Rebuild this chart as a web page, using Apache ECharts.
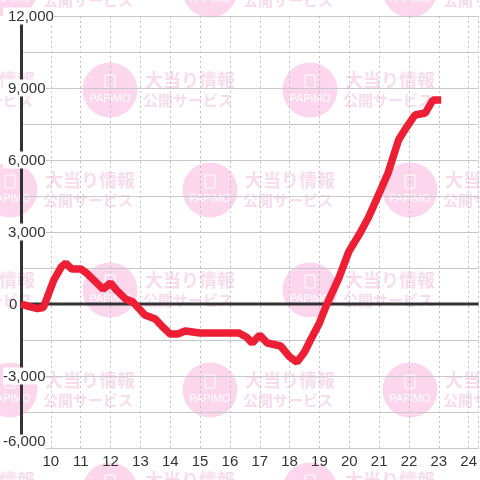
<!DOCTYPE html>
<html><head><meta charset="utf-8">
<style>html,body{margin:0;padding:0;background:#fff}#c{width:480px;height:480px}</style>
<script src="https://cdn.jsdelivr.net/npm/echarts@6/dist/echarts.min.js"></script>
</head><body><div id="c"></div>
<script>
const hours=[9,9.25,9.55,9.75,10.1,10.35,10.5,10.7,11,11.2,11.5,11.75,12,12.2,12.5,12.75,13.15,13.5,13.75,14,14.25,14.5,15,16.3,16.55,16.75,17,17.25,17.7,18,18.25,18.5,18.7,19,19.25,19.65,19.98,20.38,20.65,21.05,21.3,21.65,21.9,22.2,22.55,22.8,23.08];
const values=[0,-100,-190,-145,1000,1550,1700,1460,1460,1290,920,620,875,580,210,80,-460,-625,-960,-1250,-1250,-1125,-1210,-1210,-1375,-1625,-1290,-1625,-1750,-2200,-2420,-2000,-1500,-790,0,1080,2170,3000,3625,4750,5460,6830,7330,7875,7960,8500,8500];
const zeroLine=[[9,0],[24.3334,0]];
const wmTitle='大当り情報', wmSub='公開サービス', wmBrand='PAPiMO';
const wmRowsA=[-10,190,390], wmColsA=[10,210,410];
const wmRowsB=[90,290,490], wmColsB=[-90,110,310];
const pink='#fcd6ec', textPink='#f9dcec';
function wm(cx,cy){return [
 {type:'circle',z:-10,shape:{cx,cy,r:27.5},style:{fill:pink},silent:true},
 {type:'rect',z:-9,shape:{x:cx-5,y:cy-15,width:10,height:13,r:1},style:{fill:'none',stroke:'#fff',lineWidth:1},silent:true},
 {type:'text',z:-9,x:cx,y:cy+9,style:{text:wmBrand,fill:'#fff',font:'11px "Liberation Sans"',align:'center',verticalAlign:'middle'},silent:true},
 {type:'text',z:-9,x:cx+35,y:cy-10,style:{text:wmTitle,fill:textPink,font:'bold 18px "Noto Sans CJK JP"',align:'left',verticalAlign:'middle'},silent:true},
 {type:'text',z:-9,x:cx+33,y:cy+10,style:{text:wmSub,fill:textPink,font:'bold 15px "Noto Sans CJK JP"',align:'left',verticalAlign:'middle'},silent:true}
];}
const g=[];
wmRowsA.forEach(y=>wmColsA.forEach(x=>g.push(...wm(x,y))));
wmRowsB.forEach(y=>wmColsB.forEach(x=>g.push(...wm(x,y))));
const chart=echarts.init(document.getElementById('c'),null,{renderer:'canvas'});
const labelFont={color:'#333',fontSize:15,fontFamily:'"Liberation Sans"'};
chart.setOption({
 animation:false,backgroundColor:'#fff',
 graphic:g,
 grid:{left:20.5,top:16,width:460,height:432,containLabel:false},
 xAxis:{type:'value',min:9,max:24.3334,interval:1,
  axisLine:{onZero:false,lineStyle:{color:'#c8c8c8',width:1}},axisTick:{show:false},
  splitLine:{lineStyle:{color:'#c0c0c0',type:[2,3],width:1}},
  axisLabel:{color:'#333',fontSize:15,fontFamily:'"Liberation Sans"',margin:6,showMaxLabel:false,hideOverlap:false,
   formatter:v=>(Number.isInteger(v)&&v>9)?String(v):''}},
 yAxis:{type:'value',min:-6000,max:12000,interval:1500,
  axisLine:{show:true,onZero:false,lineStyle:{color:'#333',width:3}},axisTick:{show:false},
  splitLine:{lineStyle:{color:'#c8c8c8',width:1}},
  axisLabel:{inside:true,margin:-18,align:'left',showMinLabel:true,showMaxLabel:true,
   formatter:v=>{ if(v%3000!==0) return ''; const s=Math.abs(v).toLocaleString('en-US');
     if(v===-6000) return '{b|-'+s+'}';
     return v<0?'{n|-'+s+'}':(v===0?'{z|0}':'{p|'+s+'}');},
   rich:{
    n:{...labelFont,backgroundColor:'#fff',padding:[2,0,0,0]},
    b:{...labelFont,backgroundColor:'#fff',padding:[0,0,12,0]},
    p:{...labelFont,backgroundColor:'#fff',padding:[2,0,0,5]},
    z:{...labelFont,padding:[2,0,0,6]}
   }}},
 series:[
  {type:'line',data:zeroLine,symbol:'none',silent:true,z:2,lineStyle:{color:'#333',width:3}},
  {type:'line',data:hours.map((h,i)=>[h,values[i]]),symbol:'none',z:3,lineStyle:{color:'#ee1f35',width:7.5,join:'bevel',cap:'butt'}}
 ]
});
</script></body></html>
